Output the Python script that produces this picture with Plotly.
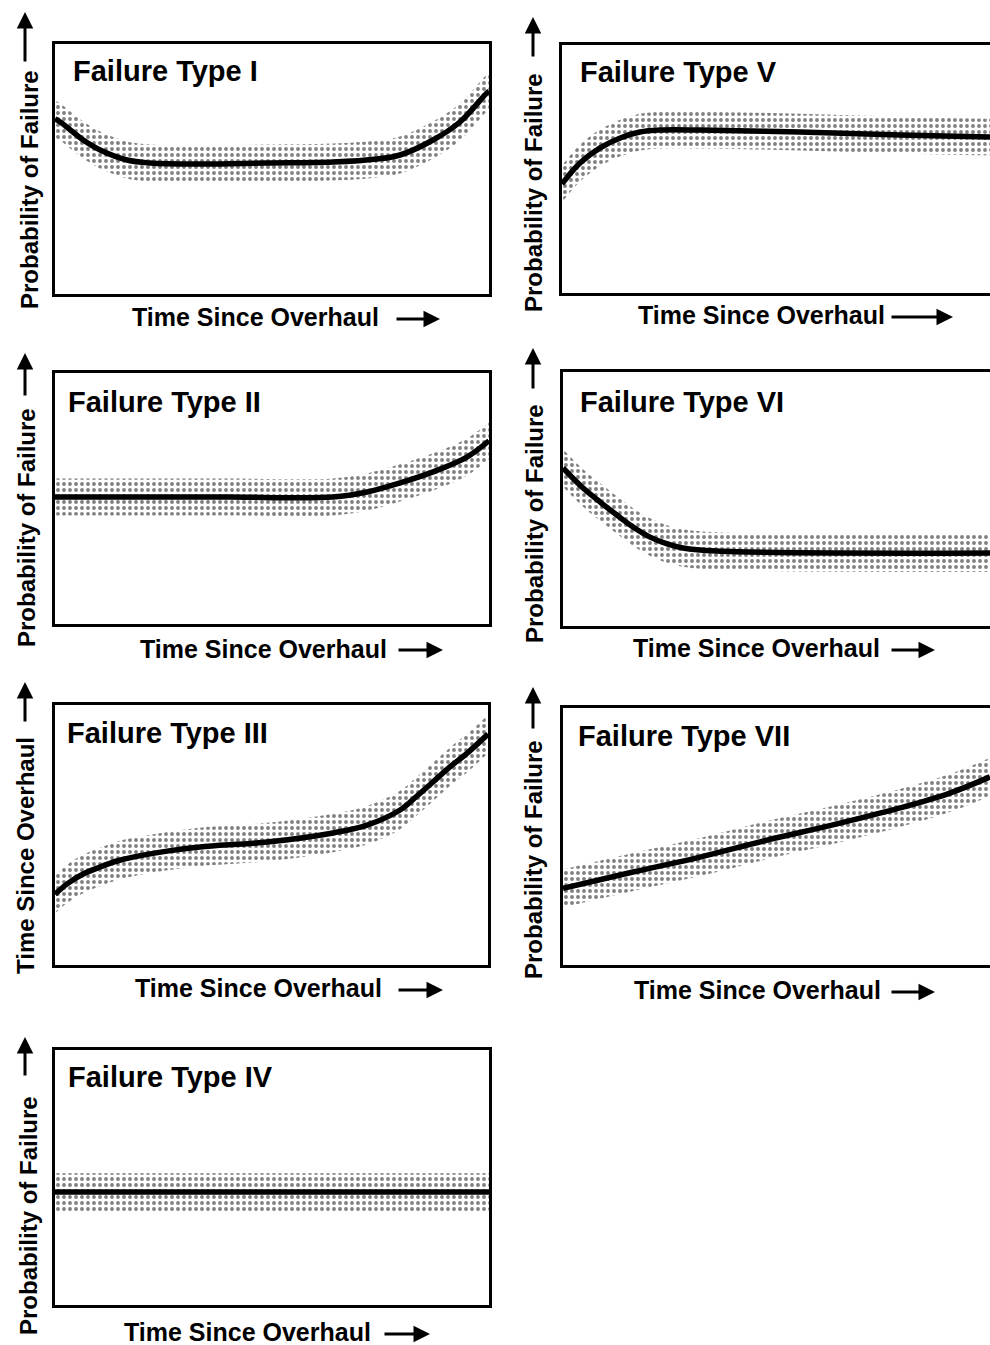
import plotly.graph_objects as go

W, H = 990, 1345

# ---------------- data (0-10 relative units) ----------------
titles = ["Failure Type I", "Failure Type II", "Failure Type III", "Failure Type IV",
          "Failure Type V", "Failure Type VI", "Failure Type VII"]
y_labels = ["Probability of Failure", "Probability of Failure", "Time Since Overhaul",
            "Probability of Failure", "Probability of Failure", "Probability of Failure",
            "Probability of Failure"]
x_label = "Time Since Overhaul"

t1_x = [0, 0.12, 0.65, 1.04, 1.66, 2.19, 3.34, 4.88, 6.41, 7.42, 7.95, 8.71, 9.33, 9.95, 10]
t1_y = [7.0, 6.88, 6.16, 5.76, 5.36, 5.24, 5.20, 5.24, 5.28, 5.40, 5.56, 6.16, 6.88, 8.04, 8.1]

t2_x = [0, 2, 4, 6.4, 7.19, 7.95, 8.71, 9.49, 10]
t2_y = [5.06, 5.06, 5.06, 5.06, 5.26, 5.62, 6.06, 6.65, 7.3]

t3_x = [0, 0.28, 0.65, 1.04, 1.43, 1.80, 2.59, 3.35, 4.90, 6.42, 7.21, 7.97, 8.36, 8.73, 9.12, 9.52, 10]
t3_y = [2.72, 3.12, 3.50, 3.77, 4.00, 4.15, 4.38, 4.54, 4.73, 5.08, 5.38, 5.96, 6.50, 7.04, 7.62, 8.15, 8.88]

t4_x = [0, 10]
t4_y = [4.43, 4.43]

t5_x = [0, 0.42, 0.89, 1.36, 1.82, 2.29, 3.22, 5.56, 7.90, 10]
t5_y = [4.4, 5.24, 5.85, 6.25, 6.49, 6.57, 6.57, 6.49, 6.37, 6.29]

t6_x = [0, 0.47, 0.87, 1.26, 1.64, 2.04, 2.44, 2.81, 3.6, 10]
t6_y = [6.22, 5.43, 4.88, 4.37, 3.90, 3.50, 3.23, 3.07, 2.95, 2.87]

t7_x = [0, 1.64, 3.21, 4.78, 6.32, 7.89, 9.06, 10]
t7_y = [2.98, 3.62, 4.20, 4.86, 5.45, 6.11, 6.69, 7.32]

band_half = 0.74

series = [(t1_x, t1_y), (t2_x, t2_y), (t3_x, t3_y), (t4_x, t4_y),
          (t5_x, t5_y), (t6_x, t6_y), (t7_x, t7_y)]

# ---------------- layout geometry (pixels) ----------------
frames = [  # x0, x1, ytop, ybottom
    (55, 489, 44, 294),
    (55, 489, 373, 624),
    (55, 488, 705, 965),
    (55, 489, 1050, 1305),
    (562, 990, 45, 293),
    (563, 990, 372, 626),
    (563, 990, 708, 965),
]
title_pos = [(71, 71), (66, 402), (65, 733), (66, 1077), (578, 72), (578, 402), (576, 736)]
ylab_pos = [(29, 190), (26, 528), (25, 856), (28, 1216), (534, 193), (534, 524), (534, 860)]
yarrow = [(25, 12, 63), (25, 353, 397), (25, 682, 723), (25, 1037, 1077),
          (533, 17, 58), (533, 348, 390), (533, 687, 730)]
xlab_pos = [(255, 317), (263, 649), (258, 988), (247, 1332), (761, 315), (756, 648), (757, 990)]
xarrow = [(319, 395, 440), (650, 397, 443), (990, 397, 443), (1334, 383, 430),
          (317, 890, 953), (650, 890, 935), (992, 890, 935)]


def px(x):
    return x / W


def py(y):
    return 1 - y / H


FONT = "Liberation Sans, Arial, Helvetica, sans-serif"

fig = go.Figure()
layout = dict(
    width=W, height=H,
    margin=dict(l=0, r=0, t=0, b=0),
    paper_bgcolor="white", plot_bgcolor="white",
    showlegend=False,
    font=dict(family=FONT, color="black"),
)
annotations = []

for i, ((xs, ys), (x0, x1, yt, yb)) in enumerate(zip(series, frames)):
    n = i + 1
    xa = "x" if n == 1 else f"x{n}"
    ya = "y" if n == 1 else f"y{n}"
    right_col = i >= 4
    layout["xaxis" if n == 1 else f"xaxis{n}"] = dict(
        domain=[px(x0), min(px(x1), 1.0)], anchor=ya, range=[0, 10],
        showticklabels=False, ticks="", showgrid=False, zeroline=False,
        showline=True, linecolor="black", linewidth=3, mirror=True, fixedrange=True)
    layout["yaxis" if n == 1 else f"yaxis{n}"] = dict(
        domain=[py(yb), py(yt)], anchor=xa, range=[0, 10],
        showticklabels=False, ticks="", showgrid=False, zeroline=False,
        showline=True, linecolor="black", linewidth=3,
        mirror=(False if right_col else True), fixedrange=True)

    lo = [v - band_half for v in ys]
    hi = [v + band_half for v in ys]
    fig.add_trace(go.Scatter(x=xs, y=lo, xaxis=xa, yaxis=ya, mode="lines",
                             line=dict(width=0, shape="spline", color="rgba(0,0,0,0)"),
                             hoverinfo="skip"))
    fig.add_trace(go.Scatter(x=xs, y=hi, xaxis=xa, yaxis=ya, mode="lines",
                             line=dict(width=0, shape="spline", color="rgba(0,0,0,0)"),
                             fill="tonexty", fillcolor="white",
                             fillpattern=dict(shape=".", fgcolor="black", bgcolor="white",
                                              size=6, solidity=0.32),
                             hoverinfo="skip"))
    fig.add_trace(go.Scatter(x=xs, y=ys, xaxis=xa, yaxis=ya, mode="lines",
                             line=dict(width=5.5, shape="spline", color="black"),
                             hoverinfo="skip"))

    # panel title
    tx, ty = title_pos[i]
    annotations.append(dict(text="<b>" + titles[i] + "</b>", x=px(tx), y=py(ty),
                            xref="paper", yref="paper",
                            xanchor="left", yanchor="middle", showarrow=False,
                            font=dict(size=29, family=FONT, color="black")))
    # y label (rotated)
    lx, ly = ylab_pos[i]
    annotations.append(dict(text="<b>" + y_labels[i] + "</b>", x=px(lx), y=py(ly),
                            xref="paper", yref="paper",
                            xanchor="center", yanchor="middle", showarrow=False, textangle=-90,
                            font=dict(size=24, family=FONT, color="black")))
    ax_, head, tail = yarrow[i]
    annotations.append(dict(text="", x=px(ax_), y=py(head), xref="paper", yref="paper",
                            ax=0, ay=tail - head, showarrow=True, arrowhead=2,
                            arrowsize=1.1, arrowwidth=3, arrowcolor="black", standoff=0))
    # x label
    xx, xy = xlab_pos[i]
    annotations.append(dict(text="<b>" + x_label + "</b>", x=px(xx), y=py(xy),
                            xref="paper", yref="paper",
                            xanchor="center", yanchor="middle", showarrow=False,
                            font=dict(size=25, family=FONT, color="black")))
    ay_, tl, hd = xarrow[i]
    annotations.append(dict(text="", x=px(hd), y=py(ay_), xref="paper", yref="paper",
                            ax=tl - hd, ay=0, showarrow=True, arrowhead=2,
                            arrowsize=1.1, arrowwidth=3, arrowcolor="black", standoff=0))

layout["annotations"] = annotations
fig.update_layout(**layout)
fig.write_html(
    "out.html",
    config={"displayModeBar": False},
    post_script="document.body.style.margin='0px';document.body.style.padding='0px';"
                "document.body.style.overflow='hidden';",
)
